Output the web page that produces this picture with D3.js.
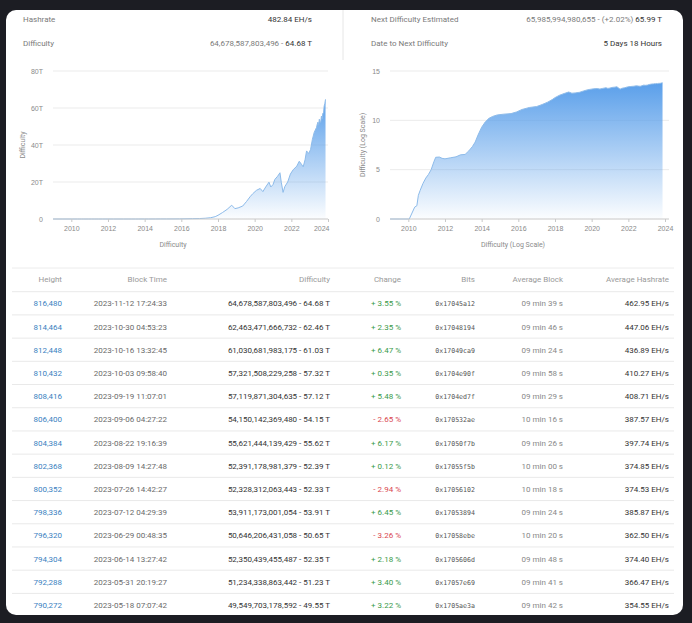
<!DOCTYPE html>
<html>
<head>
<meta charset="utf-8">
<script src="https://cdn.jsdelivr.net/npm/d3@7"></script>
<style>
  body { margin: 0; background: #1c1d23; }
  svg { display: block; font-family: Roboto, "Noto Sans", sans-serif; }
</style>
</head>
<body>
<svg id="chart" width="692" height="623"></svg>
<script>
// history of difficulty (before the table rows)
var historyDates = [
  "2009-01-03", "2009-07-01", "2009-12-30", "2010-01-20", "2010-03-15", "2010-05-08",
  "2010-06-20", "2010-07-20", "2010-08-25", "2010-10-20", "2010-12-15", "2011-02-05",
  "2011-04-01", "2011-05-25", "2011-07-01", "2011-09-12", "2011-11-05", "2012-01-01",
  "2012-04-20", "2012-08-08", "2012-11-06", "2013-02-05", "2013-04-20", "2013-07-01",
  "2013-08-25", "2013-10-20", "2014-01-01", "2014-03-15", "2014-05-27", "2014-08-08",
  "2014-11-06", "2015-03-15", "2015-08-08", "2015-11-25", "2016-03-15", "2016-08-08",
  "2017-01-01", "2017-04-20", "2017-08-08", "2017-11-06", "2018-01-01", "2018-04-01",
  "2018-07-01", "2018-10-01", "2018-12-03", "2019-02-06", "2019-05-08", "2019-07-24",
  "2019-10-01", "2019-11-25", "2020-02-06", "2020-04-20", "2020-06-13", "2020-08-08",
  "2020-10-12", "2020-11-18", "2021-01-01", "2021-02-06", "2021-04-02", "2021-05-19",
  "2021-06-14", "2021-07-20", "2021-08-25", "2021-10-20", "2021-12-13", "2022-02-06",
  "2022-04-20", "2022-06-07", "2022-07-21", "2022-08-25", "2022-10-01", "2022-10-31",
  "2022-12-13", "2023-01-19", "2023-02-24", "2023-04-01"
];
var historyDifficulty = [
  1, 1, 1, 1, 4, 16,
  22, 250, 800, 4000, 14000, 32000,
  1e5, 6.3e5, 1.8e6, 1.9e6, 1.4e6, 1.25e6,
  1.6e6, 2e6, 3.2e6, 3.5e6, 8e6, 2.2e7,
  6.3e7, 3.2e8, 2e9, 7e9, 1.6e10, 2.5e10,
  3.5e10, 4.2e10, 4.8e10, 7e10, 1.26e11, 2e11,
  2.5e11, 4e11, 7e11, 1.26e12, 2e12, 3.5e12,
  5.2e12, 7.45e12, 5.6e12, 6.0e12, 7.0e12, 9.5e12,
  12.0e12, 13.7e12, 15.5e12, 16.5e12, 14.8e12, 17.3e12,
  19.9e12, 17.3e12, 18.6e12, 21.4e12, 23.1e12, 25.0e12,
  19.9e12, 14.4e12, 17.6e12, 20.0e12, 24.3e12, 26.6e12,
  28.6e12, 31.2e12, 29.6e12, 28.2e12, 32.0e12, 36.8e12,
  35.4e12, 37.6e12, 43.0e12, 46.8e12
];

// table rows, newest first
var heights = [816480, 814464, 812448, 810432, 808416, 806400, 804384, 802368, 800352, 798336, 796320, 794304, 792288, 790272];
var blockTimes = [
  "2023-11-12 17:24:33", "2023-10-30 04:53:23", "2023-10-16 13:32:45", "2023-10-03 09:58:40",
  "2023-09-19 11:07:01", "2023-09-06 04:27:22", "2023-08-22 19:16:39", "2023-08-09 14:27:48",
  "2023-07-26 14:42:27", "2023-07-12 04:29:39", "2023-06-29 00:48:35", "2023-06-14 13:27:42",
  "2023-05-31 20:19:27", "2023-05-18 07:07:42"
];
var difficulties = [
  64678587803496, 62463471666732, 61030681983175, 57321508229258, 57119871304635,
  54150142369480, 55621444139429, 52391178981379, 52328312063443, 53911173001054,
  50646206431058, 52350439455487, 51234338863442, 49549703178592
];
var changes = [3.55, 2.35, 6.47, 0.35, 5.48, -2.65, 6.17, 0.12, -2.94, 6.45, -3.26, 2.18, 3.40, 3.22];
var bits = [
  "0x17045a12", "0x17048194", "0x17049ca9", "0x1704e90f", "0x1704ed7f", "0x170532ae", "0x17050f7b",
  "0x17055f5b", "0x17056102", "0x17053894", "0x17058ebe", "0x1705606d", "0x17057e69", "0x1705ae3a"
];
var avgBlocks = [
  "09 min 39 s", "09 min 46 s", "09 min 24 s", "09 min 58 s", "09 min 29 s", "10 min 16 s", "09 min 26 s",
  "10 min 00 s", "10 min 18 s", "09 min 24 s", "10 min 20 s", "09 min 48 s", "09 min 41 s", "09 min 42 s"
];
var avgHashrates = [462.95, 447.06, 436.89, 410.27, 408.71, 387.57, 397.74, 374.85, 374.53, 385.87, 362.50, 374.40, 366.47, 354.55];

var tableHeaders = ["Height", "Block Time", "Difficulty", "Change", "Bits", "Average Block", "Average Hashrate"];
var linearTicks = [0, 20e12, 40e12, 60e12, 80e12];
var logTicks = [0, 5, 10, 15];
var yearTicks = [2010, 2012, 2014, 2016, 2018, 2020, 2022, 2024];

var hashrateNow = "482.84 EH/s";
var nextDifficulty = 65985994980655, nextChange = "+2.02%";
var nextDate = "5 Days 18 Hours";

var parseDay = d3.timeParse("%Y-%m-%d");
var parseTime = d3.timeParse("%Y-%m-%d %H:%M:%S");
var comma = d3.format(",.0f");
function toT(v) { return (v / 1e12).toFixed(2) + " T"; }

// chart series = history + table rows (oldest first)
var series = historyDates.map(function(d, i) {
  return {date: parseDay(d), value: historyDifficulty[i]};
});
for (var i = blockTimes.length - 1; i >= 0; i--) {
  series.push({date: parseTime(blockTimes[i]), value: difficulties[i]});
}

var svg = d3.select("#chart");

// card
svg.append("rect").attr("x", 6).attr("y", 10).attr("width", 677).attr("height", 605)
    .attr("rx", 10).attr("fill", "#fff");

// header
var header = svg.append("g").attr("font-size", 8);
header.append("text").attr("x", 23).attr("y", 22).attr("fill", "#7a7a7a").text("Hashrate");
header.append("text").attr("x", 312).attr("y", 22).attr("text-anchor", "end").attr("fill", "#333").text(hashrateNow);
header.append("text").attr("x", 23).attr("y", 46).attr("fill", "#7a7a7a").text("Difficulty");
var dt = header.append("text").attr("x", 312).attr("y", 46).attr("text-anchor", "end");
dt.append("tspan").attr("fill", "#7a7a7a").text(comma(difficulties[0]) + " - ");
dt.append("tspan").attr("fill", "#333").text(toT(difficulties[0]));

header.append("text").attr("x", 371).attr("y", 22).attr("fill", "#7a7a7a").text("Next Difficulty Estimated");
var nt = header.append("text").attr("x", 662).attr("y", 22).attr("text-anchor", "end");
nt.append("tspan").attr("fill", "#7a7a7a").text(comma(nextDifficulty) + " - (" + nextChange + ") ");
nt.append("tspan").attr("fill", "#333").text(toT(nextDifficulty));
header.append("text").attr("x", 371).attr("y", 46).attr("fill", "#7a7a7a").text("Date to Next Difficulty");
header.append("text").attr("x", 662).attr("y", 46).attr("text-anchor", "end").attr("fill", "#333").text(nextDate);

svg.append("line").attr("x1", 343).attr("x2", 343).attr("y1", 10).attr("y2", 60)
    .attr("stroke", "#e6e6e6");

// gradient for the areas
var defs = svg.append("defs");
var grad = defs.append("linearGradient").attr("id", "fade")
    .attr("x1", 0).attr("y1", 0).attr("x2", 0).attr("y2", 1);
grad.append("stop").attr("offset", "0%").attr("stop-color", "#5a9fea").attr("stop-opacity", 1);
grad.append("stop").attr("offset", "100%").attr("stop-color", "#5a9fea").attr("stop-opacity", 0.02);

function drawChart(opt) {
  var g = svg.append("g");
  var x = d3.scaleTime().domain([new Date(2009, 0, 1), new Date(2024, 0, 1)]).range([opt.x0, opt.x1]);
  var y = d3.scaleLinear().domain(opt.yDomain).range([219, 71]);

  // grid
  g.selectAll(".grid").data(opt.yTicks.slice(1)).enter().append("line")
      .attr("x1", opt.x0).attr("x2", opt.gridEnd)
      .attr("y1", function(d) { return y(d); }).attr("y2", function(d) { return y(d); })
      .attr("stroke", "#ebebeb");

  var yAxis = g.append("g").attr("transform", "translate(" + opt.x0 + ",0)")
      .call(d3.axisLeft(y).tickValues(opt.yTicks).tickFormat(opt.yFormat).tickSize(0).tickPadding(opt.pad));
  yAxis.select(".domain").remove();
  yAxis.selectAll("text").attr("fill", "#8a8a8a").attr("font-size", 7).attr("font-family", null);

  var area = d3.area()
      .x(function(d) { return x(d.date); })
      .y0(y(0))
      .y1(function(d) { return y(opt.val(d.value)); });
  var line = d3.line()
      .x(function(d) { return x(d.date); })
      .y(function(d) { return y(opt.val(d.value)); });

  g.append("path").datum(series).attr("d", area).attr("fill", "url(#fade)");
  g.append("path").datum(series).attr("d", line).attr("fill", "none")
      .attr("stroke", "#8dbbea").attr("stroke-width", 1);

  var xAxis = g.append("g").attr("transform", "translate(0,219)")
      .call(d3.axisBottom(x).tickValues(yearTicks.map(function(yy) { return new Date(yy, 0, 1); }))
        .tickFormat(d3.timeFormat("%Y")).tickSize(3).tickSizeOuter(0).tickPadding(4));
  xAxis.select(".domain").attr("stroke", "#c8c8c8").attr("d", "M" + opt.x0 + ",0H" + opt.gridEnd);
  xAxis.selectAll(".tick line").attr("stroke", "#c8c8c8");
  xAxis.selectAll("text").attr("fill", "#8a8a8a").attr("font-size", 7).attr("font-family", null);
  if (opt.lastEnd) {
    xAxis.selectAll(".tick:last-of-type text").attr("text-anchor", "end").attr("dx", "1");
  }

  g.append("text").attr("transform", "translate(" + opt.yTitleX + ",145) rotate(-90)")
      .attr("text-anchor", "middle").attr("font-size", 7).attr("fill", "#8a8a8a").text(opt.title);
  g.append("text").attr("x", opt.xTitleX).attr("y", 247)
      .attr("text-anchor", "middle").attr("font-size", 7).attr("fill", "#8a8a8a").text(opt.title);
}

drawChart({
  x0: 53, x1: 328, gridEnd: 328, yDomain: [0, 80e12], yTicks: linearTicks,
  yFormat: function(d) { return d === 0 ? "0" : (d / 1e12) + "T"; }, pad: 10,
  val: function(v) { return v; }, title: "Difficulty", yTitleX: 25, xTitleX: 173, lastEnd: true
});
drawChart({
  x0: 390, x1: 665, gridEnd: 669, yDomain: [0, 15], yTicks: logTicks,
  yFormat: function(d) { return d; }, pad: 10,
  val: function(v) { return Math.log10(v); }, title: "Difficulty (Log Scale)", yTitleX: 365, xTitleX: 513, lastEnd: false
});

// table
var cols = [
  {x: 62, color: "#3b7fbf", font: null, size: 8, text: function(i) { return comma(heights[i]); }},
  {x: 167, color: "#6a6a6a", font: null, size: 8, text: function(i) { return blockTimes[i]; }},
  {x: 330, color: "#333", font: null, size: 8, text: function(i) { return comma(difficulties[i]) + " - " + toT(difficulties[i]); }},
  {x: 401, color: null, font: null, size: 8, text: function(i) { return (changes[i] < 0 ? "- " : "+ ") + Math.abs(changes[i]).toFixed(2) + " %"; }},
  {x: 475, color: "#555", font: "DejaVu Sans Mono, monospace", size: 6.6, text: function(i) { return bits[i]; }},
  {x: 563, color: "#888", font: null, size: 8, text: function(i) { return avgBlocks[i]; }},
  {x: 669, color: "#333", font: null, size: 8, text: function(i) { return avgHashrates[i].toFixed(2) + " EH/s"; }}
];

var rowY = d3.scaleLinear().domain([0, heights.length - 1]).range([303.3, 605]);
var pitch = rowY(1) - rowY(0);
var table = svg.append("g");

table.append("line").attr("x1", 12).attr("x2", 674).attr("y1", 268).attr("y2", 268).attr("stroke", "#ececec");
table.selectAll(".head").data(tableHeaders).enter().append("text")
    .attr("x", function(d, i) { return cols[i].x; }).attr("y", 282)
    .attr("text-anchor", "end").attr("font-size", 8).attr("fill", "#9a9a9a").text(function(d) { return d; });

table.selectAll(".sep").data(heights).enter().append("line")
    .attr("x1", 12).attr("x2", 674)
    .attr("y1", function(d, i) { return rowY(i) - pitch / 2; })
    .attr("y2", function(d, i) { return rowY(i) - pitch / 2; })
    .attr("stroke", "#e9e9e9");

cols.forEach(function(c) {
  table.selectAll(null).data(heights).enter().append("text")
      .attr("x", c.x).attr("y", function(d, i) { return rowY(i) + 3; })
      .attr("text-anchor", "end").attr("font-size", c.size)
      .attr("font-family", c.font)
      .attr("fill", function(d, i) { return c.color || (changes[i] < 0 ? "#d9474f" : "#3a9a4a"); })
      .text(function(d, i) { return c.text(i); });
});
</script>
</body>
</html>
